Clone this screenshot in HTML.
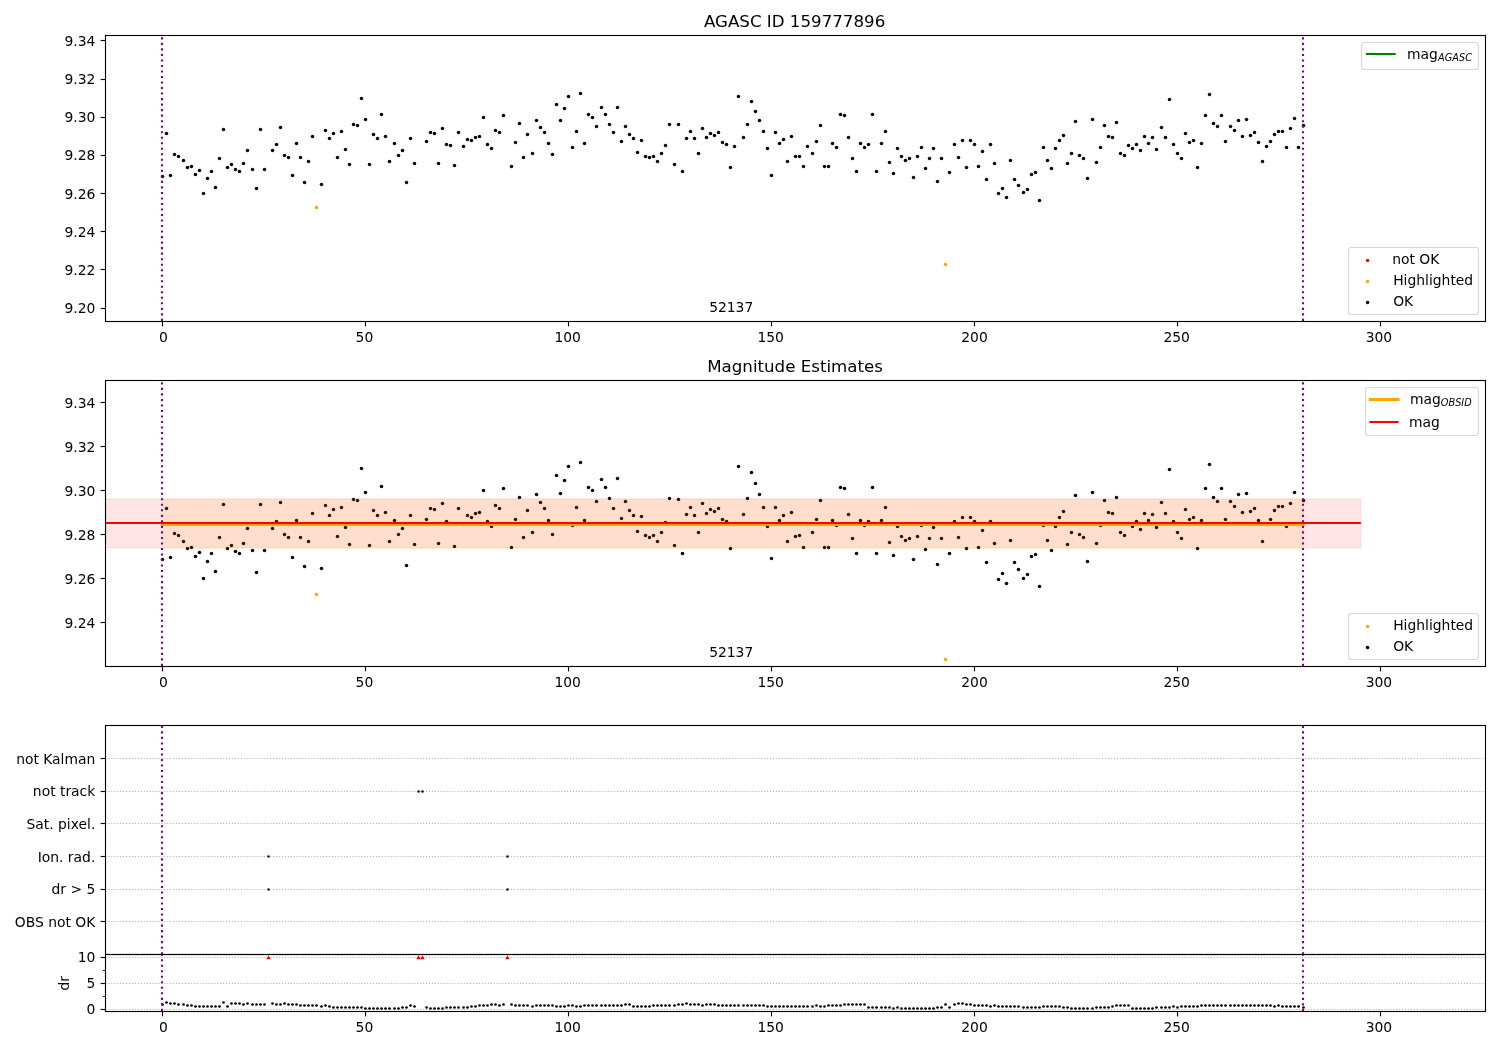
<!DOCTYPE html>
<html><head><meta charset="utf-8"><title>AGASC ID 159777896</title>
<style>html,body{margin:0;padding:0;background:#fff}svg{display:block}</style></head>
<body>
<svg width="1500" height="1050" viewBox="0 0 1500 1050" font-family="'DejaVu Sans','Liberation Sans',sans-serif" fill="#000">
<rect width="1500" height="1050" fill="#fff"/>
<g id="ax1">
<g fill="#000"><circle cx="162.5" cy="176.5" r="1.75"/><circle cx="166.5" cy="133.5" r="1.75"/><circle cx="170.5" cy="175.5" r="1.75"/><circle cx="174.5" cy="154.5" r="1.75"/><circle cx="178.5" cy="156.5" r="1.75"/><circle cx="183.5" cy="160.5" r="1.75"/><circle cx="187.5" cy="167.5" r="1.75"/><circle cx="191.5" cy="166.5" r="1.75"/><circle cx="195.5" cy="174.5" r="1.75"/><circle cx="199.5" cy="170.5" r="1.75"/><circle cx="203.5" cy="193.5" r="1.75"/><circle cx="207.5" cy="178.5" r="1.75"/><circle cx="211.5" cy="171.5" r="1.75"/><circle cx="215.5" cy="187.5" r="1.75"/><circle cx="219.5" cy="158.5" r="1.75"/><circle cx="223.5" cy="129.5" r="1.75"/><circle cx="227.5" cy="167.5" r="1.75"/><circle cx="231.5" cy="164.5" r="1.75"/><circle cx="235.5" cy="169.5" r="1.75"/><circle cx="239.5" cy="171.5" r="1.75"/><circle cx="243.5" cy="163.5" r="1.75"/><circle cx="247.5" cy="150.5" r="1.75"/><circle cx="252.5" cy="169.5" r="1.75"/><circle cx="256.5" cy="188.5" r="1.75"/><circle cx="260.5" cy="129.5" r="1.75"/><circle cx="264.5" cy="169.5" r="1.75"/><circle cx="272.5" cy="150.5" r="1.75"/><circle cx="276.5" cy="144.5" r="1.75"/><circle cx="280.5" cy="127.5" r="1.75"/><circle cx="284.5" cy="155.5" r="1.75"/><circle cx="288.5" cy="157.5" r="1.75"/><circle cx="292.5" cy="175.5" r="1.75"/><circle cx="296.5" cy="143.5" r="1.75"/><circle cx="300.5" cy="157.5" r="1.75"/><circle cx="304.5" cy="182.5" r="1.75"/><circle cx="308.5" cy="161.5" r="1.75"/><circle cx="312.5" cy="136.5" r="1.75"/><circle cx="321.5" cy="184.5" r="1.75"/><circle cx="325.5" cy="130.5" r="1.75"/><circle cx="329.5" cy="138.5" r="1.75"/><circle cx="333.5" cy="133.5" r="1.75"/><circle cx="337.5" cy="157.5" r="1.75"/><circle cx="341.5" cy="131.5" r="1.75"/><circle cx="345.5" cy="149.5" r="1.75"/><circle cx="349.5" cy="164.5" r="1.75"/><circle cx="353.5" cy="124.5" r="1.75"/><circle cx="357.5" cy="125.5" r="1.75"/><circle cx="361.5" cy="98.5" r="1.75"/><circle cx="365.5" cy="119.5" r="1.75"/><circle cx="369.5" cy="164.5" r="1.75"/><circle cx="373.5" cy="134.5" r="1.75"/><circle cx="377.5" cy="138.5" r="1.75"/><circle cx="381.5" cy="114.5" r="1.75"/><circle cx="385.5" cy="136.5" r="1.75"/><circle cx="389.5" cy="161.5" r="1.75"/><circle cx="394.5" cy="143.5" r="1.75"/><circle cx="398.5" cy="155.5" r="1.75"/><circle cx="402.5" cy="150.5" r="1.75"/><circle cx="406.5" cy="182.5" r="1.75"/><circle cx="410.5" cy="138.5" r="1.75"/><circle cx="414.5" cy="163.5" r="1.75"/><circle cx="426.5" cy="141.5" r="1.75"/><circle cx="430.5" cy="132.5" r="1.75"/><circle cx="434.5" cy="133.5" r="1.75"/><circle cx="438.5" cy="163.5" r="1.75"/><circle cx="442.5" cy="128.5" r="1.75"/><circle cx="446.5" cy="144.5" r="1.75"/><circle cx="450.5" cy="145.5" r="1.75"/><circle cx="454.5" cy="165.5" r="1.75"/><circle cx="458.5" cy="132.5" r="1.75"/><circle cx="463.5" cy="146.5" r="1.75"/><circle cx="467.5" cy="139.5" r="1.75"/><circle cx="471.5" cy="140.5" r="1.75"/><circle cx="475.5" cy="137.5" r="1.75"/><circle cx="479.5" cy="136.5" r="1.75"/><circle cx="483.5" cy="117.5" r="1.75"/><circle cx="487.5" cy="144.5" r="1.75"/><circle cx="491.5" cy="148.5" r="1.75"/><circle cx="495.5" cy="130.5" r="1.75"/><circle cx="499.5" cy="132.5" r="1.75"/><circle cx="503.5" cy="115.5" r="1.75"/><circle cx="511.5" cy="166.5" r="1.75"/><circle cx="515.5" cy="142.5" r="1.75"/><circle cx="519.5" cy="123.5" r="1.75"/><circle cx="523.5" cy="157.5" r="1.75"/><circle cx="527.5" cy="134.5" r="1.75"/><circle cx="532.5" cy="153.5" r="1.75"/><circle cx="536.5" cy="120.5" r="1.75"/><circle cx="540.5" cy="127.5" r="1.75"/><circle cx="544.5" cy="132.5" r="1.75"/><circle cx="548.5" cy="143.5" r="1.75"/><circle cx="552.5" cy="154.5" r="1.75"/><circle cx="556.5" cy="104.5" r="1.75"/><circle cx="560.5" cy="120.5" r="1.75"/><circle cx="564.5" cy="108.5" r="1.75"/><circle cx="568.5" cy="96.5" r="1.75"/><circle cx="572.5" cy="147.5" r="1.75"/><circle cx="576.5" cy="131.5" r="1.75"/><circle cx="580.5" cy="93.5" r="1.75"/><circle cx="584.5" cy="143.5" r="1.75"/><circle cx="588.5" cy="114.5" r="1.75"/><circle cx="592.5" cy="117.5" r="1.75"/><circle cx="596.5" cy="126.5" r="1.75"/><circle cx="601.5" cy="107.5" r="1.75"/><circle cx="605.5" cy="114.5" r="1.75"/><circle cx="609.5" cy="124.5" r="1.75"/><circle cx="613.5" cy="132.5" r="1.75"/><circle cx="617.5" cy="107.5" r="1.75"/><circle cx="621.5" cy="141.5" r="1.75"/><circle cx="625.5" cy="126.5" r="1.75"/><circle cx="629.5" cy="134.5" r="1.75"/><circle cx="633.5" cy="138.5" r="1.75"/><circle cx="637.5" cy="152.5" r="1.75"/><circle cx="641.5" cy="140.5" r="1.75"/><circle cx="645.5" cy="156.5" r="1.75"/><circle cx="649.5" cy="157.5" r="1.75"/><circle cx="653.5" cy="156.5" r="1.75"/><circle cx="657.5" cy="161.5" r="1.75"/><circle cx="661.5" cy="153.5" r="1.75"/><circle cx="665.5" cy="145.5" r="1.75"/><circle cx="669.5" cy="124.5" r="1.75"/><circle cx="674.5" cy="164.5" r="1.75"/><circle cx="678.5" cy="124.5" r="1.75"/><circle cx="682.5" cy="171.5" r="1.75"/><circle cx="686.5" cy="138.5" r="1.75"/><circle cx="690.5" cy="131.5" r="1.75"/><circle cx="694.5" cy="138.5" r="1.75"/><circle cx="698.5" cy="153.5" r="1.75"/><circle cx="702.5" cy="128.5" r="1.75"/><circle cx="706.5" cy="137.5" r="1.75"/><circle cx="710.5" cy="133.5" r="1.75"/><circle cx="714.5" cy="135.5" r="1.75"/><circle cx="718.5" cy="132.5" r="1.75"/><circle cx="722.5" cy="142.5" r="1.75"/><circle cx="726.5" cy="144.5" r="1.75"/><circle cx="730.5" cy="167.5" r="1.75"/><circle cx="734.5" cy="146.5" r="1.75"/><circle cx="738.5" cy="96.5" r="1.75"/><circle cx="743.5" cy="137.5" r="1.75"/><circle cx="747.5" cy="124.5" r="1.75"/><circle cx="751.5" cy="101.5" r="1.75"/><circle cx="755.5" cy="111.5" r="1.75"/><circle cx="759.5" cy="120.5" r="1.75"/><circle cx="763.5" cy="131.5" r="1.75"/><circle cx="767.5" cy="148.5" r="1.75"/><circle cx="771.5" cy="175.5" r="1.75"/><circle cx="775.5" cy="132.5" r="1.75"/><circle cx="779.5" cy="143.5" r="1.75"/><circle cx="783.5" cy="139.5" r="1.75"/><circle cx="787.5" cy="161.5" r="1.75"/><circle cx="791.5" cy="136.5" r="1.75"/><circle cx="795.5" cy="156.5" r="1.75"/><circle cx="799.5" cy="156.5" r="1.75"/><circle cx="803.5" cy="166.5" r="1.75"/><circle cx="807.5" cy="146.5" r="1.75"/><circle cx="812.5" cy="153.5" r="1.75"/><circle cx="816.5" cy="141.5" r="1.75"/><circle cx="820.5" cy="125.5" r="1.75"/><circle cx="824.5" cy="166.5" r="1.75"/><circle cx="828.5" cy="166.5" r="1.75"/><circle cx="832.5" cy="143.5" r="1.75"/><circle cx="836.5" cy="147.5" r="1.75"/><circle cx="840.5" cy="114.5" r="1.75"/><circle cx="844.5" cy="115.5" r="1.75"/><circle cx="848.5" cy="137.5" r="1.75"/><circle cx="852.5" cy="158.5" r="1.75"/><circle cx="856.5" cy="171.5" r="1.75"/><circle cx="860.5" cy="143.5" r="1.75"/><circle cx="864.5" cy="147.5" r="1.75"/><circle cx="868.5" cy="144.5" r="1.75"/><circle cx="872.5" cy="114.5" r="1.75"/><circle cx="876.5" cy="171.5" r="1.75"/><circle cx="881.5" cy="143.5" r="1.75"/><circle cx="885.5" cy="131.5" r="1.75"/><circle cx="889.5" cy="162.5" r="1.75"/><circle cx="893.5" cy="173.5" r="1.75"/><circle cx="897.5" cy="148.5" r="1.75"/><circle cx="901.5" cy="156.5" r="1.75"/><circle cx="905.5" cy="160.5" r="1.75"/><circle cx="909.5" cy="158.5" r="1.75"/><circle cx="913.5" cy="177.5" r="1.75"/><circle cx="917.5" cy="156.5" r="1.75"/><circle cx="921.5" cy="147.5" r="1.75"/><circle cx="925.5" cy="168.5" r="1.75"/><circle cx="929.5" cy="158.5" r="1.75"/><circle cx="933.5" cy="148.5" r="1.75"/><circle cx="937.5" cy="181.5" r="1.75"/><circle cx="941.5" cy="158.5" r="1.75"/><circle cx="949.5" cy="172.5" r="1.75"/><circle cx="954.5" cy="144.5" r="1.75"/><circle cx="958.5" cy="157.5" r="1.75"/><circle cx="962.5" cy="140.5" r="1.75"/><circle cx="966.5" cy="167.5" r="1.75"/><circle cx="970.5" cy="140.5" r="1.75"/><circle cx="974.5" cy="144.5" r="1.75"/><circle cx="978.5" cy="166.5" r="1.75"/><circle cx="982.5" cy="151.5" r="1.75"/><circle cx="986.5" cy="179.5" r="1.75"/><circle cx="990.5" cy="144.5" r="1.75"/><circle cx="994.5" cy="163.5" r="1.75"/><circle cx="998.5" cy="193.5" r="1.75"/><circle cx="1002.5" cy="188.5" r="1.75"/><circle cx="1006.5" cy="197.5" r="1.75"/><circle cx="1010.5" cy="160.5" r="1.75"/><circle cx="1014.5" cy="179.5" r="1.75"/><circle cx="1018.5" cy="185.5" r="1.75"/><circle cx="1023.5" cy="192.5" r="1.75"/><circle cx="1027.5" cy="189.5" r="1.75"/><circle cx="1031.5" cy="174.5" r="1.75"/><circle cx="1035.5" cy="172.5" r="1.75"/><circle cx="1039.5" cy="200.5" r="1.75"/><circle cx="1043.5" cy="147.5" r="1.75"/><circle cx="1047.5" cy="160.5" r="1.75"/><circle cx="1051.5" cy="168.5" r="1.75"/><circle cx="1055.5" cy="148.5" r="1.75"/><circle cx="1059.5" cy="140.5" r="1.75"/><circle cx="1063.5" cy="135.5" r="1.75"/><circle cx="1067.5" cy="163.5" r="1.75"/><circle cx="1071.5" cy="153.5" r="1.75"/><circle cx="1075.5" cy="121.5" r="1.75"/><circle cx="1079.5" cy="155.5" r="1.75"/><circle cx="1083.5" cy="158.5" r="1.75"/><circle cx="1087.5" cy="178.5" r="1.75"/><circle cx="1092.5" cy="119.5" r="1.75"/><circle cx="1096.5" cy="162.5" r="1.75"/><circle cx="1100.5" cy="147.5" r="1.75"/><circle cx="1104.5" cy="125.5" r="1.75"/><circle cx="1108.5" cy="136.5" r="1.75"/><circle cx="1112.5" cy="137.5" r="1.75"/><circle cx="1116.5" cy="122.5" r="1.75"/><circle cx="1120.5" cy="153.5" r="1.75"/><circle cx="1124.5" cy="155.5" r="1.75"/><circle cx="1128.5" cy="145.5" r="1.75"/><circle cx="1132.5" cy="148.5" r="1.75"/><circle cx="1136.5" cy="144.5" r="1.75"/><circle cx="1140.5" cy="150.5" r="1.75"/><circle cx="1144.5" cy="136.5" r="1.75"/><circle cx="1148.5" cy="143.5" r="1.75"/><circle cx="1152.5" cy="137.5" r="1.75"/><circle cx="1156.5" cy="149.5" r="1.75"/><circle cx="1161.5" cy="127.5" r="1.75"/><circle cx="1165.5" cy="137.5" r="1.75"/><circle cx="1169.5" cy="99.5" r="1.75"/><circle cx="1173.5" cy="144.5" r="1.75"/><circle cx="1177.5" cy="153.5" r="1.75"/><circle cx="1181.5" cy="158.5" r="1.75"/><circle cx="1185.5" cy="133.5" r="1.75"/><circle cx="1189.5" cy="142.5" r="1.75"/><circle cx="1193.5" cy="140.5" r="1.75"/><circle cx="1197.5" cy="167.5" r="1.75"/><circle cx="1201.5" cy="143.5" r="1.75"/><circle cx="1205.5" cy="115.5" r="1.75"/><circle cx="1209.5" cy="94.5" r="1.75"/><circle cx="1213.5" cy="123.5" r="1.75"/><circle cx="1217.5" cy="126.5" r="1.75"/><circle cx="1221.5" cy="115.5" r="1.75"/><circle cx="1225.5" cy="141.5" r="1.75"/><circle cx="1230.5" cy="126.5" r="1.75"/><circle cx="1234.5" cy="130.5" r="1.75"/><circle cx="1238.5" cy="120.5" r="1.75"/><circle cx="1242.5" cy="136.5" r="1.75"/><circle cx="1246.5" cy="119.5" r="1.75"/><circle cx="1250.5" cy="135.5" r="1.75"/><circle cx="1254.5" cy="132.5" r="1.75"/><circle cx="1258.5" cy="142.5" r="1.75"/><circle cx="1262.5" cy="161.5" r="1.75"/><circle cx="1266.5" cy="146.5" r="1.75"/><circle cx="1270.5" cy="141.5" r="1.75"/><circle cx="1274.5" cy="134.5" r="1.75"/><circle cx="1278.5" cy="131.5" r="1.75"/><circle cx="1282.5" cy="131.5" r="1.75"/><circle cx="1286.5" cy="147.5" r="1.75"/><circle cx="1290.5" cy="128.5" r="1.75"/><circle cx="1294.5" cy="118.5" r="1.75"/><circle cx="1298.5" cy="147.5" r="1.75"/><circle cx="1303.5" cy="125.5" r="1.75"/></g>
<g fill="#ffa500"><circle cx="316.5" cy="207.5" r="1.75"/><circle cx="945.5" cy="264.5" r="1.75"/></g>
<line x1="162.0" y1="320.93" x2="162.0" y2="35.5" stroke="#800080" stroke-width="2.08" stroke-dasharray="2.08 3.44"/>
<line x1="1303.0" y1="320.93" x2="1303.0" y2="35.5" stroke="#800080" stroke-width="2.08" stroke-dasharray="2.08 3.44"/>
<text x="731.20" y="312.00" font-size="13.889" text-anchor="middle" >52137</text>
<rect x="105.5" y="35.5" width="1380.0" height="286.00" fill="none" stroke="#000" stroke-width="1.11" />
<line x1="162.5" y1="321.5" x2="162.5" y2="326.36" stroke="#000" stroke-width="1.11"/>
<text x="163.50" y="341.80" font-size="13.889" text-anchor="middle" >0</text>
<line x1="365.5" y1="321.5" x2="365.5" y2="326.36" stroke="#000" stroke-width="1.11"/>
<text x="364.40" y="341.80" font-size="13.889" text-anchor="middle" >50</text>
<line x1="568.5" y1="321.5" x2="568.5" y2="326.36" stroke="#000" stroke-width="1.11"/>
<text x="567.70" y="341.80" font-size="13.889" text-anchor="middle" >100</text>
<line x1="771.5" y1="321.5" x2="771.5" y2="326.36" stroke="#000" stroke-width="1.11"/>
<text x="770.70" y="341.80" font-size="13.889" text-anchor="middle" >150</text>
<line x1="974.5" y1="321.5" x2="974.5" y2="326.36" stroke="#000" stroke-width="1.11"/>
<text x="974.50" y="341.80" font-size="13.889" text-anchor="middle" >200</text>
<line x1="1177.5" y1="321.5" x2="1177.5" y2="326.36" stroke="#000" stroke-width="1.11"/>
<text x="1176.70" y="341.80" font-size="13.889" text-anchor="middle" >250</text>
<line x1="1380.5" y1="321.5" x2="1380.5" y2="326.36" stroke="#000" stroke-width="1.11"/>
<text x="1378.90" y="341.80" font-size="13.889" text-anchor="middle" >300</text>
<line x1="100.64" y1="308.5" x2="105.5" y2="308.5" stroke="#000" stroke-width="1.11"/>
<text x="95.30" y="313.20" font-size="13.889" text-anchor="end" >9.20</text>
<line x1="100.64" y1="269.5" x2="105.5" y2="269.5" stroke="#000" stroke-width="1.11"/>
<text x="95.30" y="274.70" font-size="13.889" text-anchor="end" >9.22</text>
<line x1="100.64" y1="231.5" x2="105.5" y2="231.5" stroke="#000" stroke-width="1.11"/>
<text x="95.30" y="236.70" font-size="13.889" text-anchor="end" >9.24</text>
<line x1="100.64" y1="193.5" x2="105.5" y2="193.5" stroke="#000" stroke-width="1.11"/>
<text x="95.30" y="198.70" font-size="13.889" text-anchor="end" >9.26</text>
<line x1="100.64" y1="155.5" x2="105.5" y2="155.5" stroke="#000" stroke-width="1.11"/>
<text x="95.30" y="160.20" font-size="13.889" text-anchor="end" >9.28</text>
<line x1="100.64" y1="117.5" x2="105.5" y2="117.5" stroke="#000" stroke-width="1.11"/>
<text x="95.30" y="122.20" font-size="13.889" text-anchor="end" >9.30</text>
<line x1="100.64" y1="79.5" x2="105.5" y2="79.5" stroke="#000" stroke-width="1.11"/>
<text x="95.30" y="84.20" font-size="13.889" text-anchor="end" >9.32</text>
<line x1="100.64" y1="40.5" x2="105.5" y2="40.5" stroke="#000" stroke-width="1.11"/>
<text x="95.30" y="45.70" font-size="13.889" text-anchor="end" >9.34</text>
<text x="794.60" y="27.00" font-size="16.667" text-anchor="middle" >AGASC ID 159777896</text>
<rect x="1361.5" y="42.5" width="117.00" height="27.00" rx="2.8" ry="2.8" fill="#fff" fill-opacity="0.8" stroke="#ccc" stroke-opacity="0.8" stroke-width="1.15"/>
<line x1="1366.9" y1="54" x2="1394.7" y2="54" stroke="#008000" stroke-width="2.08" stroke-linecap="square"/>
<text x="1407.1" y="59.2" font-size="13.889">mag<tspan font-size="9.72" font-style="italic" dy="2.0" letter-spacing="0.1">AGASC</tspan></text>
<rect x="1348.5" y="247.5" width="130.00" height="67.00" rx="2.8" ry="2.8" fill="#fff" fill-opacity="0.8" stroke="#ccc" stroke-opacity="0.8" stroke-width="1.15"/>
<g fill="#f00"><circle cx="1367.6" cy="260.5" r="1.75"/></g>
<text x="1392.20" y="263.90" font-size="13.889" text-anchor="start" >not OK</text>
<g fill="#ffa500"><circle cx="1367.6" cy="281.5" r="1.75"/></g>
<text x="1393.20" y="284.90" font-size="13.889" text-anchor="start" >Highlighted</text>
<g fill="#000"><circle cx="1367.6" cy="302.5" r="1.75"/></g>
<text x="1393.20" y="305.90" font-size="13.889" text-anchor="start" >OK</text>
</g>
<g id="ax2">
<g fill="#000"><circle cx="162.5" cy="559.5" r="1.75"/><circle cx="166.5" cy="508.5" r="1.75"/><circle cx="170.5" cy="557.5" r="1.75"/><circle cx="174.5" cy="533.5" r="1.75"/><circle cx="178.5" cy="535.5" r="1.75"/><circle cx="183.5" cy="541.5" r="1.75"/><circle cx="187.5" cy="548.5" r="1.75"/><circle cx="191.5" cy="547.5" r="1.75"/><circle cx="195.5" cy="556.5" r="1.75"/><circle cx="199.5" cy="552.5" r="1.75"/><circle cx="203.5" cy="578.5" r="1.75"/><circle cx="207.5" cy="561.5" r="1.75"/><circle cx="211.5" cy="553.5" r="1.75"/><circle cx="215.5" cy="571.5" r="1.75"/><circle cx="219.5" cy="537.5" r="1.75"/><circle cx="223.5" cy="504.5" r="1.75"/><circle cx="227.5" cy="548.5" r="1.75"/><circle cx="231.5" cy="545.5" r="1.75"/><circle cx="235.5" cy="551.5" r="1.75"/><circle cx="239.5" cy="553.5" r="1.75"/><circle cx="243.5" cy="543.5" r="1.75"/><circle cx="247.5" cy="528.5" r="1.75"/><circle cx="252.5" cy="550.5" r="1.75"/><circle cx="256.5" cy="572.5" r="1.75"/><circle cx="260.5" cy="504.5" r="1.75"/><circle cx="264.5" cy="550.5" r="1.75"/><circle cx="272.5" cy="528.5" r="1.75"/><circle cx="276.5" cy="521.5" r="1.75"/><circle cx="280.5" cy="502.5" r="1.75"/><circle cx="284.5" cy="534.5" r="1.75"/><circle cx="288.5" cy="537.5" r="1.75"/><circle cx="292.5" cy="557.5" r="1.75"/><circle cx="296.5" cy="520.5" r="1.75"/><circle cx="300.5" cy="537.5" r="1.75"/><circle cx="304.5" cy="566.5" r="1.75"/><circle cx="308.5" cy="541.5" r="1.75"/><circle cx="312.5" cy="513.5" r="1.75"/><circle cx="321.5" cy="568.5" r="1.75"/><circle cx="325.5" cy="505.5" r="1.75"/><circle cx="329.5" cy="515.5" r="1.75"/><circle cx="333.5" cy="509.5" r="1.75"/><circle cx="337.5" cy="536.5" r="1.75"/><circle cx="341.5" cy="507.5" r="1.75"/><circle cx="345.5" cy="527.5" r="1.75"/><circle cx="349.5" cy="544.5" r="1.75"/><circle cx="353.5" cy="499.5" r="1.75"/><circle cx="357.5" cy="500.5" r="1.75"/><circle cx="361.5" cy="468.5" r="1.75"/><circle cx="365.5" cy="492.5" r="1.75"/><circle cx="369.5" cy="545.5" r="1.75"/><circle cx="373.5" cy="510.5" r="1.75"/><circle cx="377.5" cy="515.5" r="1.75"/><circle cx="381.5" cy="486.5" r="1.75"/><circle cx="385.5" cy="512.5" r="1.75"/><circle cx="389.5" cy="541.5" r="1.75"/><circle cx="394.5" cy="520.5" r="1.75"/><circle cx="398.5" cy="534.5" r="1.75"/><circle cx="402.5" cy="528.5" r="1.75"/><circle cx="406.5" cy="565.5" r="1.75"/><circle cx="410.5" cy="515.5" r="1.75"/><circle cx="414.5" cy="544.5" r="1.75"/><circle cx="426.5" cy="519.5" r="1.75"/><circle cx="430.5" cy="508.5" r="1.75"/><circle cx="434.5" cy="509.5" r="1.75"/><circle cx="438.5" cy="543.5" r="1.75"/><circle cx="442.5" cy="503.5" r="1.75"/><circle cx="446.5" cy="521.5" r="1.75"/><circle cx="450.5" cy="523.5" r="1.75"/><circle cx="454.5" cy="546.5" r="1.75"/><circle cx="458.5" cy="508.5" r="1.75"/><circle cx="463.5" cy="524.5" r="1.75"/><circle cx="467.5" cy="515.5" r="1.75"/><circle cx="471.5" cy="517.5" r="1.75"/><circle cx="475.5" cy="513.5" r="1.75"/><circle cx="479.5" cy="512.5" r="1.75"/><circle cx="483.5" cy="490.5" r="1.75"/><circle cx="487.5" cy="521.5" r="1.75"/><circle cx="491.5" cy="526.5" r="1.75"/><circle cx="495.5" cy="505.5" r="1.75"/><circle cx="499.5" cy="508.5" r="1.75"/><circle cx="503.5" cy="488.5" r="1.75"/><circle cx="511.5" cy="547.5" r="1.75"/><circle cx="515.5" cy="519.5" r="1.75"/><circle cx="519.5" cy="497.5" r="1.75"/><circle cx="523.5" cy="537.5" r="1.75"/><circle cx="527.5" cy="510.5" r="1.75"/><circle cx="532.5" cy="532.5" r="1.75"/><circle cx="536.5" cy="494.5" r="1.75"/><circle cx="540.5" cy="502.5" r="1.75"/><circle cx="544.5" cy="508.5" r="1.75"/><circle cx="548.5" cy="520.5" r="1.75"/><circle cx="552.5" cy="534.5" r="1.75"/><circle cx="556.5" cy="475.5" r="1.75"/><circle cx="560.5" cy="493.5" r="1.75"/><circle cx="564.5" cy="480.5" r="1.75"/><circle cx="568.5" cy="466.5" r="1.75"/><circle cx="572.5" cy="525.5" r="1.75"/><circle cx="576.5" cy="507.5" r="1.75"/><circle cx="580.5" cy="462.5" r="1.75"/><circle cx="584.5" cy="520.5" r="1.75"/><circle cx="588.5" cy="487.5" r="1.75"/><circle cx="592.5" cy="490.5" r="1.75"/><circle cx="596.5" cy="501.5" r="1.75"/><circle cx="601.5" cy="479.5" r="1.75"/><circle cx="605.5" cy="487.5" r="1.75"/><circle cx="609.5" cy="498.5" r="1.75"/><circle cx="613.5" cy="508.5" r="1.75"/><circle cx="617.5" cy="478.5" r="1.75"/><circle cx="621.5" cy="518.5" r="1.75"/><circle cx="625.5" cy="501.5" r="1.75"/><circle cx="629.5" cy="510.5" r="1.75"/><circle cx="633.5" cy="515.5" r="1.75"/><circle cx="637.5" cy="531.5" r="1.75"/><circle cx="641.5" cy="516.5" r="1.75"/><circle cx="645.5" cy="535.5" r="1.75"/><circle cx="649.5" cy="537.5" r="1.75"/><circle cx="653.5" cy="535.5" r="1.75"/><circle cx="657.5" cy="541.5" r="1.75"/><circle cx="661.5" cy="532.5" r="1.75"/><circle cx="665.5" cy="522.5" r="1.75"/><circle cx="669.5" cy="498.5" r="1.75"/><circle cx="674.5" cy="545.5" r="1.75"/><circle cx="678.5" cy="499.5" r="1.75"/><circle cx="682.5" cy="553.5" r="1.75"/><circle cx="686.5" cy="514.5" r="1.75"/><circle cx="690.5" cy="507.5" r="1.75"/><circle cx="694.5" cy="515.5" r="1.75"/><circle cx="698.5" cy="532.5" r="1.75"/><circle cx="702.5" cy="503.5" r="1.75"/><circle cx="706.5" cy="513.5" r="1.75"/><circle cx="710.5" cy="509.5" r="1.75"/><circle cx="714.5" cy="511.5" r="1.75"/><circle cx="718.5" cy="508.5" r="1.75"/><circle cx="722.5" cy="519.5" r="1.75"/><circle cx="726.5" cy="521.5" r="1.75"/><circle cx="730.5" cy="548.5" r="1.75"/><circle cx="734.5" cy="524.5" r="1.75"/><circle cx="738.5" cy="466.5" r="1.75"/><circle cx="743.5" cy="514.5" r="1.75"/><circle cx="747.5" cy="498.5" r="1.75"/><circle cx="751.5" cy="472.5" r="1.75"/><circle cx="755.5" cy="483.5" r="1.75"/><circle cx="759.5" cy="494.5" r="1.75"/><circle cx="763.5" cy="507.5" r="1.75"/><circle cx="767.5" cy="526.5" r="1.75"/><circle cx="771.5" cy="558.5" r="1.75"/><circle cx="775.5" cy="507.5" r="1.75"/><circle cx="779.5" cy="520.5" r="1.75"/><circle cx="783.5" cy="515.5" r="1.75"/><circle cx="787.5" cy="541.5" r="1.75"/><circle cx="791.5" cy="512.5" r="1.75"/><circle cx="795.5" cy="536.5" r="1.75"/><circle cx="799.5" cy="535.5" r="1.75"/><circle cx="803.5" cy="547.5" r="1.75"/><circle cx="807.5" cy="524.5" r="1.75"/><circle cx="812.5" cy="532.5" r="1.75"/><circle cx="816.5" cy="519.5" r="1.75"/><circle cx="820.5" cy="500.5" r="1.75"/><circle cx="824.5" cy="547.5" r="1.75"/><circle cx="828.5" cy="547.5" r="1.75"/><circle cx="832.5" cy="520.5" r="1.75"/><circle cx="836.5" cy="525.5" r="1.75"/><circle cx="840.5" cy="487.5" r="1.75"/><circle cx="844.5" cy="488.5" r="1.75"/><circle cx="848.5" cy="514.5" r="1.75"/><circle cx="852.5" cy="538.5" r="1.75"/><circle cx="856.5" cy="553.5" r="1.75"/><circle cx="860.5" cy="520.5" r="1.75"/><circle cx="864.5" cy="525.5" r="1.75"/><circle cx="868.5" cy="521.5" r="1.75"/><circle cx="872.5" cy="487.5" r="1.75"/><circle cx="876.5" cy="553.5" r="1.75"/><circle cx="881.5" cy="520.5" r="1.75"/><circle cx="885.5" cy="507.5" r="1.75"/><circle cx="889.5" cy="542.5" r="1.75"/><circle cx="893.5" cy="555.5" r="1.75"/><circle cx="897.5" cy="526.5" r="1.75"/><circle cx="901.5" cy="536.5" r="1.75"/><circle cx="905.5" cy="540.5" r="1.75"/><circle cx="909.5" cy="538.5" r="1.75"/><circle cx="913.5" cy="559.5" r="1.75"/><circle cx="917.5" cy="536.5" r="1.75"/><circle cx="921.5" cy="525.5" r="1.75"/><circle cx="925.5" cy="549.5" r="1.75"/><circle cx="929.5" cy="538.5" r="1.75"/><circle cx="933.5" cy="527.5" r="1.75"/><circle cx="937.5" cy="564.5" r="1.75"/><circle cx="941.5" cy="538.5" r="1.75"/><circle cx="949.5" cy="553.5" r="1.75"/><circle cx="954.5" cy="521.5" r="1.75"/><circle cx="958.5" cy="537.5" r="1.75"/><circle cx="962.5" cy="517.5" r="1.75"/><circle cx="966.5" cy="548.5" r="1.75"/><circle cx="970.5" cy="517.5" r="1.75"/><circle cx="974.5" cy="521.5" r="1.75"/><circle cx="978.5" cy="547.5" r="1.75"/><circle cx="982.5" cy="530.5" r="1.75"/><circle cx="986.5" cy="562.5" r="1.75"/><circle cx="990.5" cy="521.5" r="1.75"/><circle cx="994.5" cy="543.5" r="1.75"/><circle cx="998.5" cy="579.5" r="1.75"/><circle cx="1002.5" cy="573.5" r="1.75"/><circle cx="1006.5" cy="583.5" r="1.75"/><circle cx="1010.5" cy="540.5" r="1.75"/><circle cx="1014.5" cy="562.5" r="1.75"/><circle cx="1018.5" cy="569.5" r="1.75"/><circle cx="1023.5" cy="578.5" r="1.75"/><circle cx="1027.5" cy="574.5" r="1.75"/><circle cx="1031.5" cy="556.5" r="1.75"/><circle cx="1035.5" cy="554.5" r="1.75"/><circle cx="1039.5" cy="586.5" r="1.75"/><circle cx="1043.5" cy="525.5" r="1.75"/><circle cx="1047.5" cy="540.5" r="1.75"/><circle cx="1051.5" cy="550.5" r="1.75"/><circle cx="1055.5" cy="526.5" r="1.75"/><circle cx="1059.5" cy="517.5" r="1.75"/><circle cx="1063.5" cy="511.5" r="1.75"/><circle cx="1067.5" cy="544.5" r="1.75"/><circle cx="1071.5" cy="532.5" r="1.75"/><circle cx="1075.5" cy="495.5" r="1.75"/><circle cx="1079.5" cy="534.5" r="1.75"/><circle cx="1083.5" cy="537.5" r="1.75"/><circle cx="1087.5" cy="561.5" r="1.75"/><circle cx="1092.5" cy="492.5" r="1.75"/><circle cx="1096.5" cy="543.5" r="1.75"/><circle cx="1100.5" cy="525.5" r="1.75"/><circle cx="1104.5" cy="500.5" r="1.75"/><circle cx="1108.5" cy="512.5" r="1.75"/><circle cx="1112.5" cy="513.5" r="1.75"/><circle cx="1116.5" cy="497.5" r="1.75"/><circle cx="1120.5" cy="532.5" r="1.75"/><circle cx="1124.5" cy="535.5" r="1.75"/><circle cx="1128.5" cy="523.5" r="1.75"/><circle cx="1132.5" cy="526.5" r="1.75"/><circle cx="1136.5" cy="521.5" r="1.75"/><circle cx="1140.5" cy="529.5" r="1.75"/><circle cx="1144.5" cy="513.5" r="1.75"/><circle cx="1148.5" cy="520.5" r="1.75"/><circle cx="1152.5" cy="514.5" r="1.75"/><circle cx="1156.5" cy="527.5" r="1.75"/><circle cx="1161.5" cy="502.5" r="1.75"/><circle cx="1165.5" cy="513.5" r="1.75"/><circle cx="1169.5" cy="469.5" r="1.75"/><circle cx="1173.5" cy="521.5" r="1.75"/><circle cx="1177.5" cy="532.5" r="1.75"/><circle cx="1181.5" cy="538.5" r="1.75"/><circle cx="1185.5" cy="509.5" r="1.75"/><circle cx="1189.5" cy="519.5" r="1.75"/><circle cx="1193.5" cy="517.5" r="1.75"/><circle cx="1197.5" cy="548.5" r="1.75"/><circle cx="1201.5" cy="520.5" r="1.75"/><circle cx="1205.5" cy="488.5" r="1.75"/><circle cx="1209.5" cy="464.5" r="1.75"/><circle cx="1213.5" cy="497.5" r="1.75"/><circle cx="1217.5" cy="501.5" r="1.75"/><circle cx="1221.5" cy="488.5" r="1.75"/><circle cx="1225.5" cy="519.5" r="1.75"/><circle cx="1230.5" cy="501.5" r="1.75"/><circle cx="1234.5" cy="506.5" r="1.75"/><circle cx="1238.5" cy="494.5" r="1.75"/><circle cx="1242.5" cy="512.5" r="1.75"/><circle cx="1246.5" cy="493.5" r="1.75"/><circle cx="1250.5" cy="511.5" r="1.75"/><circle cx="1254.5" cy="508.5" r="1.75"/><circle cx="1258.5" cy="520.5" r="1.75"/><circle cx="1262.5" cy="541.5" r="1.75"/><circle cx="1266.5" cy="524.5" r="1.75"/><circle cx="1270.5" cy="519.5" r="1.75"/><circle cx="1274.5" cy="510.5" r="1.75"/><circle cx="1278.5" cy="506.5" r="1.75"/><circle cx="1282.5" cy="506.5" r="1.75"/><circle cx="1286.5" cy="526.5" r="1.75"/><circle cx="1290.5" cy="503.5" r="1.75"/><circle cx="1294.5" cy="492.5" r="1.75"/><circle cx="1298.5" cy="524.5" r="1.75"/><circle cx="1303.5" cy="500.5" r="1.75"/></g>
<g fill="#ffa500"><circle cx="316.5" cy="594.5" r="1.75"/><circle cx="945.5" cy="659.5" r="1.75"/></g>
<clipPath id="c2"><rect x="105.5" y="380.5" width="1380.0" height="286.0"/></clipPath>
<rect x="105.5" y="498.98" width="1255.40" height="48.84" fill="#f00" fill-opacity="0.1" stroke="#f00" stroke-opacity="0.07" stroke-width="1.39" clip-path="url(#c2)"/>
<rect x="162.5" y="498.98" width="1141.00" height="49.44" fill="#ffa500" fill-opacity="0.1" stroke="#ffa500" stroke-opacity="0.07" stroke-width="1.39"/>
<line x1="161.0" y1="524.5" x2="1305.0" y2="524.5" stroke="#ffa500" stroke-width="3"/>
<line x1="105.5" y1="523" x2="1360.9" y2="523" stroke="#f00" stroke-width="2.08"/>
<line x1="162.0" y1="665.93" x2="162.0" y2="380.5" stroke="#800080" stroke-width="2.08" stroke-dasharray="2.08 3.44"/>
<line x1="1303.0" y1="665.93" x2="1303.0" y2="380.5" stroke="#800080" stroke-width="2.08" stroke-dasharray="2.08 3.44"/>
<text x="731.20" y="657.00" font-size="13.889" text-anchor="middle" >52137</text>
<rect x="105.5" y="380.5" width="1380.0" height="286.00" fill="none" stroke="#000" stroke-width="1.11" />
<line x1="162.5" y1="666.5" x2="162.5" y2="671.36" stroke="#000" stroke-width="1.11"/>
<text x="163.50" y="686.80" font-size="13.889" text-anchor="middle" >0</text>
<line x1="365.5" y1="666.5" x2="365.5" y2="671.36" stroke="#000" stroke-width="1.11"/>
<text x="364.40" y="686.80" font-size="13.889" text-anchor="middle" >50</text>
<line x1="568.5" y1="666.5" x2="568.5" y2="671.36" stroke="#000" stroke-width="1.11"/>
<text x="567.70" y="686.80" font-size="13.889" text-anchor="middle" >100</text>
<line x1="771.5" y1="666.5" x2="771.5" y2="671.36" stroke="#000" stroke-width="1.11"/>
<text x="770.70" y="686.80" font-size="13.889" text-anchor="middle" >150</text>
<line x1="974.5" y1="666.5" x2="974.5" y2="671.36" stroke="#000" stroke-width="1.11"/>
<text x="974.50" y="686.80" font-size="13.889" text-anchor="middle" >200</text>
<line x1="1177.5" y1="666.5" x2="1177.5" y2="671.36" stroke="#000" stroke-width="1.11"/>
<text x="1176.70" y="686.80" font-size="13.889" text-anchor="middle" >250</text>
<line x1="1380.5" y1="666.5" x2="1380.5" y2="671.36" stroke="#000" stroke-width="1.11"/>
<text x="1378.90" y="686.80" font-size="13.889" text-anchor="middle" >300</text>
<line x1="100.64" y1="622.5" x2="105.5" y2="622.5" stroke="#000" stroke-width="1.11"/>
<text x="95.30" y="627.70" font-size="13.889" text-anchor="end" >9.24</text>
<line x1="100.64" y1="578.5" x2="105.5" y2="578.5" stroke="#000" stroke-width="1.11"/>
<text x="95.30" y="583.70" font-size="13.889" text-anchor="end" >9.26</text>
<line x1="100.64" y1="534.5" x2="105.5" y2="534.5" stroke="#000" stroke-width="1.11"/>
<text x="95.30" y="539.70" font-size="13.889" text-anchor="end" >9.28</text>
<line x1="100.64" y1="490.5" x2="105.5" y2="490.5" stroke="#000" stroke-width="1.11"/>
<text x="95.30" y="495.70" font-size="13.889" text-anchor="end" >9.30</text>
<line x1="100.64" y1="446.5" x2="105.5" y2="446.5" stroke="#000" stroke-width="1.11"/>
<text x="95.30" y="451.70" font-size="13.889" text-anchor="end" >9.32</text>
<line x1="100.64" y1="402.5" x2="105.5" y2="402.5" stroke="#000" stroke-width="1.11"/>
<text x="95.30" y="407.70" font-size="13.889" text-anchor="end" >9.34</text>
<text x="795.10" y="372.00" font-size="16.667" text-anchor="middle" >Magnitude Estimates</text>
<rect x="1365.5" y="387.5" width="113.00" height="48.00" rx="2.8" ry="2.8" fill="#fff" fill-opacity="0.8" stroke="#ccc" stroke-opacity="0.8" stroke-width="1.15"/>
<line x1="1370.4" y1="399.5" x2="1398" y2="399.5" stroke="#ffa500" stroke-width="3" stroke-linecap="square"/>
<line x1="1370.4" y1="422" x2="1397.6" y2="422" stroke="#f00" stroke-width="2.08" stroke-linecap="square"/>
<text x="1410" y="403.6" font-size="13.889">mag<tspan font-size="9.72" font-style="italic" dy="2.6">OBSID</tspan></text>
<text x="1409.00" y="426.60" font-size="13.889" text-anchor="start" >mag</text>
<rect x="1348.5" y="613.5" width="130.00" height="46.00" rx="2.8" ry="2.8" fill="#fff" fill-opacity="0.8" stroke="#ccc" stroke-opacity="0.8" stroke-width="1.15"/>
<g fill="#ffa500"><circle cx="1367.6" cy="626.5" r="1.75"/></g>
<text x="1393.20" y="629.80" font-size="13.889" text-anchor="start" >Highlighted</text>
<g fill="#000"><circle cx="1367.6" cy="647.5" r="1.75"/></g>
<text x="1393.20" y="650.80" font-size="13.889" text-anchor="start" >OK</text>
</g>
<g id="ax3">
<line x1="105.5" y1="758.5" x2="1485.5" y2="758.5" stroke="#b0b0b0" stroke-width="1.11" stroke-dasharray="1.11 1.83"/>
<line x1="105.5" y1="791.5" x2="1485.5" y2="791.5" stroke="#b0b0b0" stroke-width="1.11" stroke-dasharray="1.11 1.83"/>
<line x1="105.5" y1="823.5" x2="1485.5" y2="823.5" stroke="#b0b0b0" stroke-width="1.11" stroke-dasharray="1.11 1.83"/>
<line x1="105.5" y1="856.5" x2="1485.5" y2="856.5" stroke="#b0b0b0" stroke-width="1.11" stroke-dasharray="1.11 1.83"/>
<line x1="105.5" y1="889.5" x2="1485.5" y2="889.5" stroke="#b0b0b0" stroke-width="1.11" stroke-dasharray="1.11 1.83"/>
<line x1="105.5" y1="921.5" x2="1485.5" y2="921.5" stroke="#b0b0b0" stroke-width="1.11" stroke-dasharray="1.11 1.83"/>
<line x1="105.5" y1="957.5" x2="1485.5" y2="957.5" stroke="#b0b0b0" stroke-width="1.11" stroke-dasharray="1.11 1.83"/>
<line x1="105.5" y1="983.5" x2="1485.5" y2="983.5" stroke="#b0b0b0" stroke-width="1.11" stroke-dasharray="1.11 1.83"/>
<line x1="105.5" y1="1009.5" x2="1485.5" y2="1009.5" stroke="#b0b0b0" stroke-width="1.11" stroke-dasharray="1.11 1.83"/>
<g fill="#1a1a1a"><circle cx="268.5" cy="856.5" r="1.3"/><circle cx="268.5" cy="889.5" r="1.3"/><circle cx="418.5" cy="791.5" r="1.3"/><circle cx="422.5" cy="791.5" r="1.3"/><circle cx="507.5" cy="856.5" r="1.3"/><circle cx="507.5" cy="889.5" r="1.3"/></g>
<g fill="#000"><circle cx="162.5" cy="1004.5" r="1.35"/><circle cx="166.5" cy="1002.5" r="1.35"/><circle cx="170.5" cy="1003.5" r="1.35"/><circle cx="174.5" cy="1003.5" r="1.35"/><circle cx="178.5" cy="1004.5" r="1.35"/><circle cx="183.5" cy="1004.5" r="1.35"/><circle cx="187.5" cy="1005.5" r="1.35"/><circle cx="191.5" cy="1005.5" r="1.35"/><circle cx="195.5" cy="1006.5" r="1.35"/><circle cx="199.5" cy="1006.5" r="1.35"/><circle cx="203.5" cy="1006.5" r="1.35"/><circle cx="207.5" cy="1006.5" r="1.35"/><circle cx="211.5" cy="1006.5" r="1.35"/><circle cx="215.5" cy="1006.5" r="1.35"/><circle cx="219.5" cy="1006.5" r="1.35"/><circle cx="223.5" cy="1002.5" r="1.35"/><circle cx="227.5" cy="1006.5" r="1.35"/><circle cx="231.5" cy="1003.5" r="1.35"/><circle cx="235.5" cy="1003.5" r="1.35"/><circle cx="239.5" cy="1003.5" r="1.35"/><circle cx="243.5" cy="1004.5" r="1.35"/><circle cx="247.5" cy="1003.5" r="1.35"/><circle cx="252.5" cy="1004.5" r="1.35"/><circle cx="256.5" cy="1004.5" r="1.35"/><circle cx="260.5" cy="1004.5" r="1.35"/><circle cx="264.5" cy="1004.5" r="1.35"/><circle cx="272.5" cy="1003.5" r="1.35"/><circle cx="276.5" cy="1004.5" r="1.35"/><circle cx="280.5" cy="1004.5" r="1.35"/><circle cx="284.5" cy="1003.5" r="1.35"/><circle cx="288.5" cy="1004.5" r="1.35"/><circle cx="292.5" cy="1004.5" r="1.35"/><circle cx="296.5" cy="1004.5" r="1.35"/><circle cx="300.5" cy="1005.5" r="1.35"/><circle cx="304.5" cy="1005.5" r="1.35"/><circle cx="308.5" cy="1005.5" r="1.35"/><circle cx="312.5" cy="1005.5" r="1.35"/><circle cx="316.5" cy="1005.5" r="1.35"/><circle cx="321.5" cy="1006.5" r="1.35"/><circle cx="325.5" cy="1005.5" r="1.35"/><circle cx="329.5" cy="1006.5" r="1.35"/><circle cx="333.5" cy="1007.5" r="1.35"/><circle cx="337.5" cy="1007.5" r="1.35"/><circle cx="341.5" cy="1007.5" r="1.35"/><circle cx="345.5" cy="1007.5" r="1.35"/><circle cx="349.5" cy="1007.5" r="1.35"/><circle cx="353.5" cy="1007.5" r="1.35"/><circle cx="357.5" cy="1007.5" r="1.35"/><circle cx="361.5" cy="1007.5" r="1.35"/><circle cx="365.5" cy="1008.5" r="1.35"/><circle cx="369.5" cy="1008.5" r="1.35"/><circle cx="373.5" cy="1008.5" r="1.35"/><circle cx="377.5" cy="1008.5" r="1.35"/><circle cx="381.5" cy="1008.5" r="1.35"/><circle cx="385.5" cy="1008.5" r="1.35"/><circle cx="389.5" cy="1008.5" r="1.35"/><circle cx="394.5" cy="1008.5" r="1.35"/><circle cx="398.5" cy="1008.5" r="1.35"/><circle cx="402.5" cy="1007.5" r="1.35"/><circle cx="406.5" cy="1007.5" r="1.35"/><circle cx="410.5" cy="1005.5" r="1.35"/><circle cx="414.5" cy="1006.5" r="1.35"/><circle cx="426.5" cy="1007.5" r="1.35"/><circle cx="430.5" cy="1008.5" r="1.35"/><circle cx="434.5" cy="1008.5" r="1.35"/><circle cx="438.5" cy="1008.5" r="1.35"/><circle cx="442.5" cy="1008.5" r="1.35"/><circle cx="446.5" cy="1007.5" r="1.35"/><circle cx="450.5" cy="1007.5" r="1.35"/><circle cx="454.5" cy="1007.5" r="1.35"/><circle cx="458.5" cy="1007.5" r="1.35"/><circle cx="463.5" cy="1007.5" r="1.35"/><circle cx="467.5" cy="1007.5" r="1.35"/><circle cx="471.5" cy="1006.5" r="1.35"/><circle cx="475.5" cy="1006.5" r="1.35"/><circle cx="479.5" cy="1005.5" r="1.35"/><circle cx="483.5" cy="1005.5" r="1.35"/><circle cx="487.5" cy="1005.5" r="1.35"/><circle cx="491.5" cy="1004.5" r="1.35"/><circle cx="495.5" cy="1004.5" r="1.35"/><circle cx="499.5" cy="1005.5" r="1.35"/><circle cx="503.5" cy="1004.5" r="1.35"/><circle cx="511.5" cy="1004.5" r="1.35"/><circle cx="515.5" cy="1005.5" r="1.35"/><circle cx="519.5" cy="1005.5" r="1.35"/><circle cx="523.5" cy="1005.5" r="1.35"/><circle cx="527.5" cy="1005.5" r="1.35"/><circle cx="532.5" cy="1006.5" r="1.35"/><circle cx="536.5" cy="1005.5" r="1.35"/><circle cx="540.5" cy="1005.5" r="1.35"/><circle cx="544.5" cy="1005.5" r="1.35"/><circle cx="548.5" cy="1005.5" r="1.35"/><circle cx="552.5" cy="1005.5" r="1.35"/><circle cx="556.5" cy="1006.5" r="1.35"/><circle cx="560.5" cy="1006.5" r="1.35"/><circle cx="564.5" cy="1006.5" r="1.35"/><circle cx="568.5" cy="1005.5" r="1.35"/><circle cx="572.5" cy="1005.5" r="1.35"/><circle cx="576.5" cy="1006.5" r="1.35"/><circle cx="580.5" cy="1006.5" r="1.35"/><circle cx="584.5" cy="1005.5" r="1.35"/><circle cx="588.5" cy="1005.5" r="1.35"/><circle cx="592.5" cy="1005.5" r="1.35"/><circle cx="596.5" cy="1005.5" r="1.35"/><circle cx="601.5" cy="1005.5" r="1.35"/><circle cx="605.5" cy="1005.5" r="1.35"/><circle cx="609.5" cy="1005.5" r="1.35"/><circle cx="613.5" cy="1005.5" r="1.35"/><circle cx="617.5" cy="1005.5" r="1.35"/><circle cx="621.5" cy="1005.5" r="1.35"/><circle cx="625.5" cy="1004.5" r="1.35"/><circle cx="629.5" cy="1004.5" r="1.35"/><circle cx="633.5" cy="1006.5" r="1.35"/><circle cx="637.5" cy="1006.5" r="1.35"/><circle cx="641.5" cy="1006.5" r="1.35"/><circle cx="645.5" cy="1006.5" r="1.35"/><circle cx="649.5" cy="1006.5" r="1.35"/><circle cx="653.5" cy="1005.5" r="1.35"/><circle cx="657.5" cy="1005.5" r="1.35"/><circle cx="661.5" cy="1005.5" r="1.35"/><circle cx="665.5" cy="1005.5" r="1.35"/><circle cx="669.5" cy="1005.5" r="1.35"/><circle cx="674.5" cy="1005.5" r="1.35"/><circle cx="678.5" cy="1004.5" r="1.35"/><circle cx="682.5" cy="1004.5" r="1.35"/><circle cx="686.5" cy="1003.5" r="1.35"/><circle cx="690.5" cy="1004.5" r="1.35"/><circle cx="694.5" cy="1004.5" r="1.35"/><circle cx="698.5" cy="1004.5" r="1.35"/><circle cx="702.5" cy="1005.5" r="1.35"/><circle cx="706.5" cy="1004.5" r="1.35"/><circle cx="710.5" cy="1004.5" r="1.35"/><circle cx="714.5" cy="1004.5" r="1.35"/><circle cx="718.5" cy="1005.5" r="1.35"/><circle cx="722.5" cy="1005.5" r="1.35"/><circle cx="726.5" cy="1005.5" r="1.35"/><circle cx="730.5" cy="1005.5" r="1.35"/><circle cx="734.5" cy="1005.5" r="1.35"/><circle cx="738.5" cy="1005.5" r="1.35"/><circle cx="743.5" cy="1005.5" r="1.35"/><circle cx="747.5" cy="1005.5" r="1.35"/><circle cx="751.5" cy="1005.5" r="1.35"/><circle cx="755.5" cy="1005.5" r="1.35"/><circle cx="759.5" cy="1005.5" r="1.35"/><circle cx="763.5" cy="1005.5" r="1.35"/><circle cx="767.5" cy="1006.5" r="1.35"/><circle cx="771.5" cy="1006.5" r="1.35"/><circle cx="775.5" cy="1006.5" r="1.35"/><circle cx="779.5" cy="1006.5" r="1.35"/><circle cx="783.5" cy="1006.5" r="1.35"/><circle cx="787.5" cy="1006.5" r="1.35"/><circle cx="791.5" cy="1006.5" r="1.35"/><circle cx="795.5" cy="1006.5" r="1.35"/><circle cx="799.5" cy="1006.5" r="1.35"/><circle cx="803.5" cy="1006.5" r="1.35"/><circle cx="807.5" cy="1006.5" r="1.35"/><circle cx="812.5" cy="1006.5" r="1.35"/><circle cx="816.5" cy="1005.5" r="1.35"/><circle cx="820.5" cy="1006.5" r="1.35"/><circle cx="824.5" cy="1006.5" r="1.35"/><circle cx="828.5" cy="1005.5" r="1.35"/><circle cx="832.5" cy="1005.5" r="1.35"/><circle cx="836.5" cy="1005.5" r="1.35"/><circle cx="840.5" cy="1005.5" r="1.35"/><circle cx="844.5" cy="1004.5" r="1.35"/><circle cx="848.5" cy="1004.5" r="1.35"/><circle cx="852.5" cy="1004.5" r="1.35"/><circle cx="856.5" cy="1004.5" r="1.35"/><circle cx="860.5" cy="1004.5" r="1.35"/><circle cx="864.5" cy="1004.5" r="1.35"/><circle cx="868.5" cy="1007.5" r="1.35"/><circle cx="872.5" cy="1007.5" r="1.35"/><circle cx="876.5" cy="1007.5" r="1.35"/><circle cx="881.5" cy="1007.5" r="1.35"/><circle cx="885.5" cy="1007.5" r="1.35"/><circle cx="889.5" cy="1007.5" r="1.35"/><circle cx="893.5" cy="1008.5" r="1.35"/><circle cx="897.5" cy="1007.5" r="1.35"/><circle cx="901.5" cy="1008.5" r="1.35"/><circle cx="905.5" cy="1008.5" r="1.35"/><circle cx="909.5" cy="1008.5" r="1.35"/><circle cx="913.5" cy="1008.5" r="1.35"/><circle cx="917.5" cy="1008.5" r="1.35"/><circle cx="921.5" cy="1008.5" r="1.35"/><circle cx="925.5" cy="1008.5" r="1.35"/><circle cx="929.5" cy="1008.5" r="1.35"/><circle cx="933.5" cy="1008.5" r="1.35"/><circle cx="937.5" cy="1007.5" r="1.35"/><circle cx="941.5" cy="1007.5" r="1.35"/><circle cx="945.5" cy="1004.5" r="1.35"/><circle cx="949.5" cy="1007.5" r="1.35"/><circle cx="954.5" cy="1004.5" r="1.35"/><circle cx="958.5" cy="1003.5" r="1.35"/><circle cx="962.5" cy="1003.5" r="1.35"/><circle cx="966.5" cy="1004.5" r="1.35"/><circle cx="970.5" cy="1004.5" r="1.35"/><circle cx="974.5" cy="1005.5" r="1.35"/><circle cx="978.5" cy="1005.5" r="1.35"/><circle cx="982.5" cy="1005.5" r="1.35"/><circle cx="986.5" cy="1005.5" r="1.35"/><circle cx="990.5" cy="1006.5" r="1.35"/><circle cx="994.5" cy="1005.5" r="1.35"/><circle cx="998.5" cy="1006.5" r="1.35"/><circle cx="1002.5" cy="1006.5" r="1.35"/><circle cx="1006.5" cy="1006.5" r="1.35"/><circle cx="1010.5" cy="1006.5" r="1.35"/><circle cx="1014.5" cy="1006.5" r="1.35"/><circle cx="1018.5" cy="1006.5" r="1.35"/><circle cx="1023.5" cy="1007.5" r="1.35"/><circle cx="1027.5" cy="1007.5" r="1.35"/><circle cx="1031.5" cy="1007.5" r="1.35"/><circle cx="1035.5" cy="1007.5" r="1.35"/><circle cx="1039.5" cy="1007.5" r="1.35"/><circle cx="1043.5" cy="1006.5" r="1.35"/><circle cx="1047.5" cy="1006.5" r="1.35"/><circle cx="1051.5" cy="1006.5" r="1.35"/><circle cx="1055.5" cy="1006.5" r="1.35"/><circle cx="1059.5" cy="1006.5" r="1.35"/><circle cx="1063.5" cy="1007.5" r="1.35"/><circle cx="1067.5" cy="1007.5" r="1.35"/><circle cx="1071.5" cy="1008.5" r="1.35"/><circle cx="1075.5" cy="1008.5" r="1.35"/><circle cx="1079.5" cy="1008.5" r="1.35"/><circle cx="1083.5" cy="1008.5" r="1.35"/><circle cx="1087.5" cy="1008.5" r="1.35"/><circle cx="1092.5" cy="1008.5" r="1.35"/><circle cx="1096.5" cy="1007.5" r="1.35"/><circle cx="1100.5" cy="1007.5" r="1.35"/><circle cx="1104.5" cy="1007.5" r="1.35"/><circle cx="1108.5" cy="1007.5" r="1.35"/><circle cx="1112.5" cy="1006.5" r="1.35"/><circle cx="1116.5" cy="1005.5" r="1.35"/><circle cx="1120.5" cy="1005.5" r="1.35"/><circle cx="1124.5" cy="1005.5" r="1.35"/><circle cx="1128.5" cy="1005.5" r="1.35"/><circle cx="1132.5" cy="1008.5" r="1.35"/><circle cx="1136.5" cy="1008.5" r="1.35"/><circle cx="1140.5" cy="1008.5" r="1.35"/><circle cx="1144.5" cy="1008.5" r="1.35"/><circle cx="1148.5" cy="1008.5" r="1.35"/><circle cx="1152.5" cy="1008.5" r="1.35"/><circle cx="1156.5" cy="1007.5" r="1.35"/><circle cx="1161.5" cy="1007.5" r="1.35"/><circle cx="1165.5" cy="1007.5" r="1.35"/><circle cx="1169.5" cy="1007.5" r="1.35"/><circle cx="1173.5" cy="1006.5" r="1.35"/><circle cx="1177.5" cy="1007.5" r="1.35"/><circle cx="1181.5" cy="1006.5" r="1.35"/><circle cx="1185.5" cy="1006.5" r="1.35"/><circle cx="1189.5" cy="1006.5" r="1.35"/><circle cx="1193.5" cy="1006.5" r="1.35"/><circle cx="1197.5" cy="1006.5" r="1.35"/><circle cx="1201.5" cy="1005.5" r="1.35"/><circle cx="1205.5" cy="1005.5" r="1.35"/><circle cx="1209.5" cy="1005.5" r="1.35"/><circle cx="1213.5" cy="1005.5" r="1.35"/><circle cx="1217.5" cy="1005.5" r="1.35"/><circle cx="1221.5" cy="1005.5" r="1.35"/><circle cx="1225.5" cy="1005.5" r="1.35"/><circle cx="1230.5" cy="1005.5" r="1.35"/><circle cx="1234.5" cy="1005.5" r="1.35"/><circle cx="1238.5" cy="1005.5" r="1.35"/><circle cx="1242.5" cy="1005.5" r="1.35"/><circle cx="1246.5" cy="1005.5" r="1.35"/><circle cx="1250.5" cy="1005.5" r="1.35"/><circle cx="1254.5" cy="1005.5" r="1.35"/><circle cx="1258.5" cy="1005.5" r="1.35"/><circle cx="1262.5" cy="1005.5" r="1.35"/><circle cx="1266.5" cy="1005.5" r="1.35"/><circle cx="1270.5" cy="1005.5" r="1.35"/><circle cx="1274.5" cy="1006.5" r="1.35"/><circle cx="1278.5" cy="1005.5" r="1.35"/><circle cx="1282.5" cy="1006.5" r="1.35"/><circle cx="1286.5" cy="1006.5" r="1.35"/><circle cx="1290.5" cy="1006.5" r="1.35"/><circle cx="1294.5" cy="1006.5" r="1.35"/><circle cx="1298.5" cy="1006.5" r="1.35"/><circle cx="1303.5" cy="1007.5" r="1.35"/></g>
<path d="M268.5 955.2L270.7 959.2L266.3 959.2zM418.5 955.2L420.7 959.2L416.3 959.2zM422.5 955.2L424.7 959.2L420.3 959.2zM507.5 955.2L509.7 959.2L505.3 959.2z" fill="#f00"/>
<line x1="162.0" y1="954.23" x2="162.0" y2="725.5" stroke="#800080" stroke-width="2.08" stroke-dasharray="2.08 3.44"/>
<line x1="1303.0" y1="954.23" x2="1303.0" y2="725.5" stroke="#800080" stroke-width="2.08" stroke-dasharray="2.08 3.44"/>
<line x1="162.0" y1="1010.93" x2="162.0" y2="954.5" stroke="#800080" stroke-width="2.08" stroke-dasharray="2.08 3.44"/>
<line x1="1303.0" y1="1010.93" x2="1303.0" y2="954.5" stroke="#800080" stroke-width="2.08" stroke-dasharray="2.08 3.44"/>
<rect x="105.5" y="725.5" width="1380.0" height="229.00" fill="none" stroke="#000" stroke-width="1.11" />
<rect x="105.5" y="954.5" width="1380.0" height="57.00" fill="none" stroke="#000" stroke-width="1.11" />
<line x1="162.5" y1="1011.5" x2="162.5" y2="1016.36" stroke="#000" stroke-width="1.11"/>
<text x="163.50" y="1031.80" font-size="13.889" text-anchor="middle" >0</text>
<line x1="365.5" y1="1011.5" x2="365.5" y2="1016.36" stroke="#000" stroke-width="1.11"/>
<text x="364.40" y="1031.80" font-size="13.889" text-anchor="middle" >50</text>
<line x1="568.5" y1="1011.5" x2="568.5" y2="1016.36" stroke="#000" stroke-width="1.11"/>
<text x="567.70" y="1031.80" font-size="13.889" text-anchor="middle" >100</text>
<line x1="771.5" y1="1011.5" x2="771.5" y2="1016.36" stroke="#000" stroke-width="1.11"/>
<text x="770.70" y="1031.80" font-size="13.889" text-anchor="middle" >150</text>
<line x1="974.5" y1="1011.5" x2="974.5" y2="1016.36" stroke="#000" stroke-width="1.11"/>
<text x="974.50" y="1031.80" font-size="13.889" text-anchor="middle" >200</text>
<line x1="1177.5" y1="1011.5" x2="1177.5" y2="1016.36" stroke="#000" stroke-width="1.11"/>
<text x="1176.70" y="1031.80" font-size="13.889" text-anchor="middle" >250</text>
<line x1="1380.5" y1="1011.5" x2="1380.5" y2="1016.36" stroke="#000" stroke-width="1.11"/>
<text x="1378.90" y="1031.80" font-size="13.889" text-anchor="middle" >300</text>
<line x1="100.64" y1="758.5" x2="105.5" y2="758.5" stroke="#000" stroke-width="1.11"/>
<text x="95.30" y="763.70" font-size="13.889" text-anchor="end" >not Kalman</text>
<line x1="100.64" y1="791.5" x2="105.5" y2="791.5" stroke="#000" stroke-width="1.11"/>
<text x="95.30" y="795.70" font-size="13.889" text-anchor="end" >not track</text>
<line x1="100.64" y1="823.5" x2="105.5" y2="823.5" stroke="#000" stroke-width="1.11"/>
<text x="95.30" y="829.00" font-size="13.889" text-anchor="end" >Sat. pixel.</text>
<line x1="100.64" y1="856.5" x2="105.5" y2="856.5" stroke="#000" stroke-width="1.11"/>
<text x="95.30" y="861.70" font-size="13.889" text-anchor="end" >Ion. rad.</text>
<line x1="100.64" y1="889.5" x2="105.5" y2="889.5" stroke="#000" stroke-width="1.11"/>
<text x="95.30" y="893.90" font-size="13.889" text-anchor="end" >dr &gt; 5</text>
<line x1="100.64" y1="921.5" x2="105.5" y2="921.5" stroke="#000" stroke-width="1.11"/>
<text x="95.30" y="926.70" font-size="13.889" text-anchor="end" >OBS not OK</text>
<line x1="100.64" y1="957.5" x2="105.5" y2="957.5" stroke="#000" stroke-width="1.11"/>
<text x="95.30" y="962.20" font-size="13.889" text-anchor="end" >10</text>
<line x1="100.64" y1="983.5" x2="105.5" y2="983.5" stroke="#000" stroke-width="1.11"/>
<text x="95.30" y="988.20" font-size="13.889" text-anchor="end" >5</text>
<line x1="100.64" y1="1009.5" x2="105.5" y2="1009.5" stroke="#000" stroke-width="1.11"/>
<text x="95.30" y="1014.20" font-size="13.889" text-anchor="end" >0</text>
<line x1="102.72" y1="970.5" x2="105.5" y2="970.5" stroke="#000" stroke-width="0.83"/>
<line x1="102.72" y1="996.5" x2="105.5" y2="996.5" stroke="#000" stroke-width="0.83"/>
<text transform="translate(68.6,983.3) rotate(-90)" font-size="13.889" text-anchor="middle">dr</text>
</g>
</svg>
</body></html>
